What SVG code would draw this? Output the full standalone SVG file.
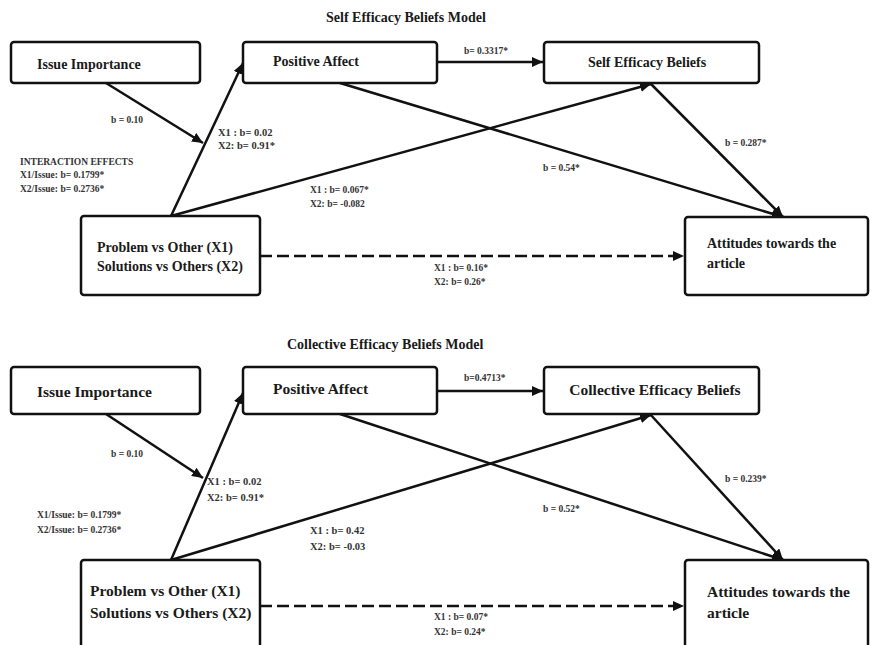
<svg xmlns="http://www.w3.org/2000/svg" width="875" height="645" viewBox="0 0 875 645">
<style>
text{font-family:"Liberation Serif","Times New Roman",serif;font-weight:bold;fill:#1a1a1a}
.title{font-size:14px}
.node{font-size:14px}
.node2{font-size:15.5px}
.lbl{font-size:9.5px;fill:#333}
.lbl2{font-size:10.5px;fill:#333}
.box{fill:#fff;stroke:#111;stroke-width:2.5}
.ln{stroke:#111;stroke-width:2.5;fill:none}
.dash{stroke:#111;stroke-width:2.5;fill:none;stroke-dasharray:12,5}
</style>
<defs>
<marker id="ah" markerUnits="userSpaceOnUse" markerWidth="12" markerHeight="10" refX="11" refY="5" orient="auto">
<path d="M0,0 L11,5 L0,10 Z" fill="#111"/>
</marker>
</defs>

<text class="title" x="326" y="22">Self Efficacy Beliefs Model</text>
<text class="title" x="287" y="349">Collective Efficacy Beliefs Model</text>

<g id="connectors">
<line class="ln" x1="437" y1="62" x2="543" y2="62" marker-end="url(#ah)"/>
<line class="ln" x1="106" y1="83" x2="203" y2="143" marker-end="url(#ah)"/>
<line class="ln" x1="171" y1="216" x2="243" y2="63" marker-end="url(#ah)"/>
<line class="ln" x1="171" y1="216" x2="651" y2="84" marker-end="url(#ah)"/>
<line class="ln" x1="340" y1="83" x2="783" y2="217" marker-end="url(#ah)"/>
<line class="ln" x1="650" y1="83" x2="783" y2="217" marker-end="url(#ah)"/>
<line class="dash" x1="260" y1="256" x2="684" y2="256" marker-end="url(#ah)"/>

<line class="ln" x1="437" y1="391" x2="543" y2="391" marker-end="url(#ah)"/>
<line class="ln" x1="106" y1="414" x2="203" y2="478" marker-end="url(#ah)"/>
<line class="ln" x1="171" y1="560" x2="243" y2="393" marker-end="url(#ah)"/>
<line class="ln" x1="171" y1="560" x2="651" y2="415" marker-end="url(#ah)"/>
<line class="ln" x1="340" y1="414" x2="783" y2="560" marker-end="url(#ah)"/>
<line class="ln" x1="650" y1="414" x2="783" y2="560" marker-end="url(#ah)"/>
<line class="dash" x1="260" y1="606" x2="684" y2="606" marker-end="url(#ah)"/>
</g>

<g id="labels">
<text class="lbl" x="464" y="54">b= 0.3317*</text>
<text class="lbl" x="111" y="123">b = 0.10</text>
<text class="lbl2" x="218" y="136">X1 : b= 0.02</text>
<text class="lbl2" x="218" y="149">X2:  b= 0.91*</text>
<text class="lbl" x="20" y="165">INTERACTION EFFECTS</text>
<text class="lbl" x="20" y="178">X1/Issue: b= 0.1799*</text>
<text class="lbl" x="20" y="192">X2/Issue: b= 0.2736*</text>
<text class="lbl" x="310" y="193">X1 : b= 0.067*</text>
<text class="lbl" x="310" y="207">X2:  b= -0.082</text>
<text class="lbl" x="543" y="171">b = 0.54*</text>
<text class="lbl" x="725" y="146">b = 0.287*</text>
<text class="lbl" x="434" y="271">X1 : b= 0.16*</text>
<text class="lbl" x="434" y="285">X2:  b= 0.26*</text>

<text class="lbl" x="464" y="381">b=0.4713*</text>
<text class="lbl" x="111" y="457">b = 0.10</text>
<text class="lbl2" x="207" y="485">X1 : b= 0.02</text>
<text class="lbl2" x="207" y="501">X2:  b= 0.91*</text>
<text class="lbl" x="37" y="518">X1/Issue: b= 0.1799*</text>
<text class="lbl" x="37" y="533">X2/Issue: b= 0.2736*</text>
<text class="lbl2" x="310" y="534">X1 : b= 0.42</text>
<text class="lbl2" x="310" y="550">X2:  b= -0.03</text>
<text class="lbl" x="543" y="512">b = 0.52*</text>
<text class="lbl" x="725" y="482">b = 0.239*</text>
<text class="lbl" x="434" y="620">X1 : b= 0.07*</text>
<text class="lbl" x="434" y="635">X2:  b= 0.24*</text>
</g>

<g id="issue1"><rect class="box" x="11" y="42" width="189" height="41" rx="3"/><text class="node" x="37" y="69">Issue Importance</text></g>
<g id="affect1"><rect class="box" x="243" y="42" width="194" height="41" rx="3"/><text class="node" x="273" y="66">Positive Affect</text></g>
<g id="seb1"><rect class="box" x="544" y="42" width="215" height="41" rx="3"/><text class="node" x="647" y="67" text-anchor="middle">Self Efficacy Beliefs</text></g>
<g id="problem1"><rect class="box" x="81" y="216" width="179" height="79" rx="3"/><text class="node" x="97" y="252">Problem vs Other (X1)</text><text class="node" x="97" y="271">Solutions vs Others (X2)</text></g>
<g id="attitudes1"><rect class="box" x="685" y="217" width="183" height="78" rx="3"/><text class="node" x="707" y="248">Attitudes towards the</text><text class="node" x="707" y="268">article</text></g>

<g id="issue2"><rect class="box" x="11" y="367" width="189" height="47" rx="3"/><text class="node2" x="37" y="397">Issue Importance</text></g>
<g id="affect2"><rect class="box" x="243" y="367" width="194" height="47" rx="3"/><text class="node2" x="273" y="394">Positive Affect</text></g>
<g id="ceb2"><rect class="box" x="544" y="367" width="215" height="47" rx="3"/><text class="node2" x="655" y="395" text-anchor="middle">Collective Efficacy Beliefs</text></g>
<g id="problem2"><rect class="box" x="81" y="560" width="179" height="95" rx="3"/><text class="node2" x="90" y="596">Problem vs Other (X1)</text><text class="node2" x="90" y="618">Solutions vs Others (X2)</text></g>
<g id="attitudes2"><rect class="box" x="685" y="560" width="183" height="95" rx="3"/><text class="node2" x="707" y="597">Attitudes towards the</text><text class="node2" x="707" y="618">article</text></g>
</svg>
